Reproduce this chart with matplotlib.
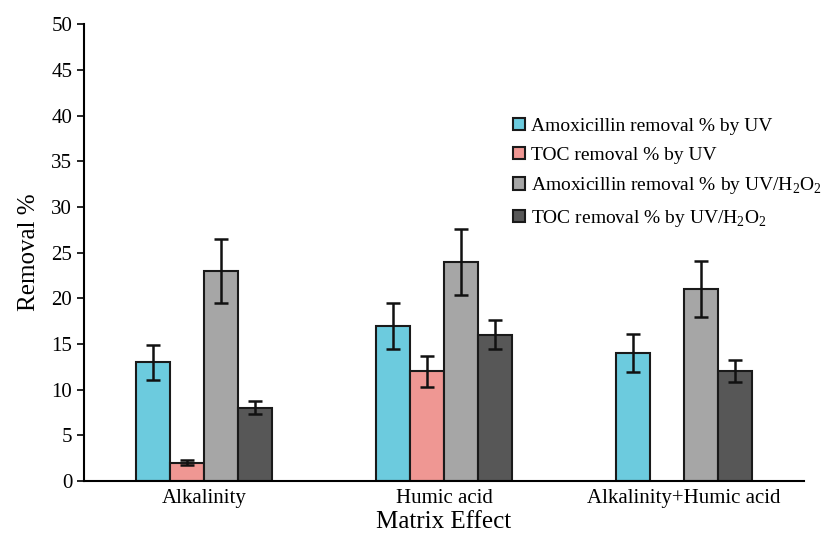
import matplotlib.pyplot as plt
import numpy as np

plt.rcParams["font.family"] = ["Liberation Serif", "DejaVu Serif"]
plt.rcParams["mathtext.fontset"] = "custom"
plt.rcParams["mathtext.rm"] = "Liberation Serif"

categories = ["Alkalinity", "Humic acid", "Alkalinity+Humic acid"]
series_labels = [
    "Amoxicillin removal % by UV",
    "TOC removal % by UV",
    r"Amoxicillin removal % by UV/H$_\mathregular{2}$O$_\mathregular{2}$",
    r"TOC removal % by UV/H$_\mathregular{2}$O$_\mathregular{2}$",
]
amox_uv = [13, 17, 14]
amox_uv_err = [1.9, 2.5, 2.1]
toc_uv = [2, 12, np.nan]
toc_uv_err = [0.3, 1.7, np.nan]
amox_h2o2 = [23, 24, 21]
amox_h2o2_err = [3.5, 3.6, 3.1]
toc_h2o2 = [8, 16, 12]
toc_h2o2_err = [0.7, 1.6, 1.2]

colors = ["#6ccbde", "#ef9793", "#a6a6a6", "#575757"]

fig = plt.figure(figsize=(8.29, 5.38), dpi=100)
ax = fig.add_axes([0.1013, 0.106, 0.8687, 0.849])

x = np.arange(len(categories))
width = 0.142
values = [amox_uv, toc_uv, amox_h2o2, toc_h2o2]
errors = [amox_uv_err, toc_uv_err, amox_h2o2_err, toc_h2o2_err]
for i, (vals, errs) in enumerate(zip(values, errors)):
    ax.bar(x + (i - 1.5) * width, vals, width, yerr=errs, color=colors[i],
           edgecolor="#1a1a1a", linewidth=1.5, label=series_labels[i],
           error_kw=dict(ecolor="#111111", elinewidth=1.8, capsize=5, capthick=1.8))

ax.set_xlim(-0.5, 2.5)
ax.set_ylim(0, 50)
ax.set_yticks(np.arange(0, 51, 5))
ax.set_xticks(x)
ax.set_xticklabels(categories, fontsize=15)
ax.tick_params(axis="x", length=0, pad=6)
ax.tick_params(axis="y", labelsize=15, length=5, width=1.2, direction="out")
ax.spines["top"].set_visible(False)
ax.spines["right"].set_visible(False)
ax.spines["left"].set_linewidth(1.5)
ax.spines["bottom"].set_linewidth(1.5)

ax.set_ylabel("Removal %", fontsize=18, labelpad=8)
ax.set_xlabel("Matrix Effect", fontsize=18, labelpad=2)

ax.legend(loc="upper left", bbox_to_anchor=(0.585, 0.812), frameon=False,
          fontsize=14, handlelength=0.6, handleheight=0.6, handletextpad=0.3,
          labelspacing=0.6, borderaxespad=0)

fig.savefig("out.png", dpi=100)
